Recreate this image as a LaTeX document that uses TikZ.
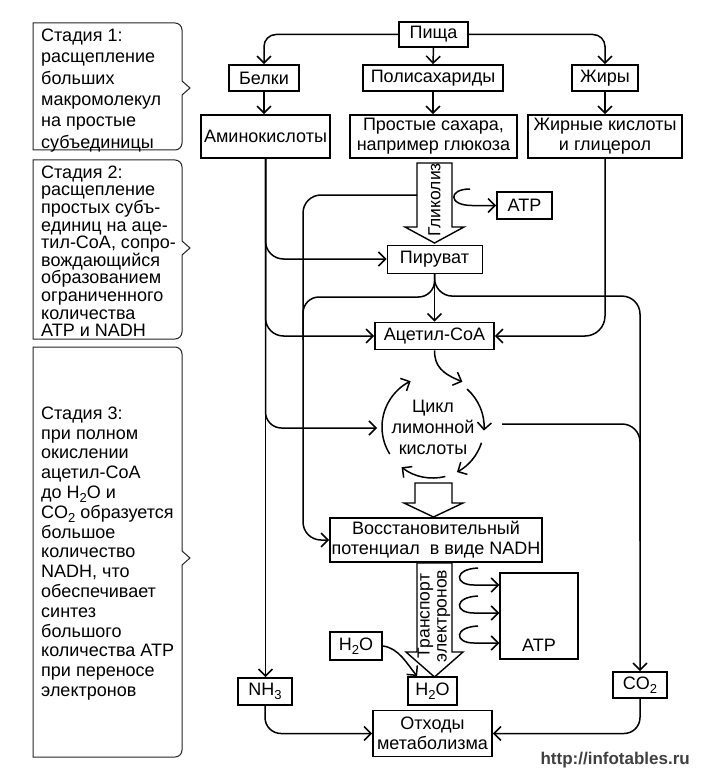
\documentclass[tikz,border=0pt]{standalone}
\usepackage{fontspec}
\setmainfont{Liberation Sans}
\usetikzlibrary{arrows.meta,calc}
\newcommand\subidx[1]{\raisebox{-0.45ex}{\fontsize{13}{13}\selectfont #1}}
\begin{document}
\begin{tikzpicture}[x=1pt,y=1pt,
  box/.style={draw, line width=1.8pt, inner sep=0pt, align=center, font=\fontsize{18}{20}\selectfont},
  conn/.style={line width=1.5pt},
  arr/.style={conn, -{Straight Barb[length=7pt,width=14pt]}},
  stageline/.style={line width=1pt, draw=black!85},
  stagetext/.style={anchor=north west, inner sep=0pt, align=left},
  hollow/.style={draw, line width=1.4pt, fill=white, line join=miter}
]
\useasboundingbox (0,0) rectangle (707,-778);
\fill[white] (0,0) rectangle (707,-778);

% ---------- stage boxes ----------
\draw[stageline] (33,-150) -- (33,-23) -- (175,-23) arc[start angle=90,end angle=0,radius=7]
  -- (182,-81) -- (190,-88) -- (182,-95) -- (182,-143) arc[start angle=0,end angle=-90,radius=7] -- cycle;
\draw[stageline] (33,-339) -- (33,-160) -- (175,-160) arc[start angle=90,end angle=0,radius=7]
  -- (182,-241) -- (190,-248) -- (182,-255) -- (182,-332) arc[start angle=0,end angle=-90,radius=7] -- cycle;
\draw[stageline] (33,-757) -- (33,-347) -- (175,-347) arc[start angle=90,end angle=0,radius=7]
  -- (182,-551) -- (190,-558) -- (182,-565) -- (182,-750) arc[start angle=0,end angle=-90,radius=7] -- cycle;

\node[stagetext, font=\fontsize{18}{21.4}\selectfont] (s1) at (41,-28.5)
 {Стадия 1:\\расщепление\\больших\\макромолекул\\на простые\\субъединицы};
\node[stagetext, font=\fontsize{18}{17.6}\selectfont] (s2) at (41,-165.5)
 {Стадия 2:\\расщепление\\простых субъ-\\единиц на аце-\\тил-CoA, сопро-\\вождающийся\\образованием\\ограниченного\\количества\\ATP и NADH};
\node[stagetext, font=\fontsize{18}{19.8}\selectfont] (s3) at (41,-406.5)
 {Стадия 3:\\при полном\\окислении\\ацетил-CoA\\до H\subidx{2}O и\\CO\subidx{2} образуется\\большое\\количество\\NADH, что\\обеспечивает\\синтез\\большого\\количества ATP\\при переносе\\электронов};

% ---------- nodes ----------
\node[box, minimum width=69, minimum height=25] (pisha) at (433.5,-34.5) {Пища};
\node[box, minimum width=70, minimum height=26] (belki) at (264,-78) {Белки};
\node[box, minimum width=140, minimum height=26] (poly) at (433,-78) {Полисахариды};
\node[box, minimum width=66, minimum height=26] (zhiry) at (605,-78) {Жиры};
\node[box, minimum width=129, minimum height=43] (amino) at (265.5,-136.5) {Аминокислоты};
\node[box, minimum width=167, minimum height=43] (sugar) at (433.5,-136.5) {Простые сахара,\\например глюкоза};
\node[box, minimum width=154, minimum height=43] (fatty) at (605,-136.5) {Жирные кислоты\\и глицерол};
\node[box, minimum width=55, minimum height=27] (atp1) at (524.5,-205.5) {ATP};
\node[box, line width=1pt, minimum width=95, minimum height=28] (pyr) at (434.5,-259) {Пируват};
\node[box, minimum width=119, minimum height=27] (acetyl) at (434.5,-336) {Ацетил-CoA};
\node[box, minimum width=212, minimum height=44] (nadh) at (436,-540) {Восстановительный\\потенциал\ \ в виде NADH};
\node[box, line width=1.5pt, minimum width=78, minimum height=86] (atp2) at (539,-616) {};
\node[inner sep=0pt, font=\fontsize{18}{20}\selectfont] (atp2lbl) at (539,-645) {ATP};
\node[box, minimum width=52, minimum height=28] (h2oa) at (356,-646) {H\subidx{2}O};
\node[box, minimum width=49, minimum height=28] (h2ob) at (432.5,-691) {H\subidx{2}O};
\node[box, minimum width=54, minimum height=27] (nh3) at (265,-691.5) {NH\subidx{3}};
\node[box, minimum width=54, minimum height=26] (co2) at (640,-685) {CO\subidx{2}};
\node[box, minimum width=119, minimum height=46] (otx) at (432.5,-733.5) {Отходы\\метаболизма};
\node[inner sep=0pt, anchor=east, text=black!75, font=\bfseries\fontsize{17}{20}\selectfont] (url) at (690,-760) {http://infotables.ru};

% ---------- cycle ----------
\coordinate (cc) at (433,-427);
\node[inner sep=0pt, align=center, font=\fontsize{18}{21}\selectfont] (cyc) at (cc) {Цикл\\лимонной\\кислоты};
\draw[arr] ($(cc)+(212:51)$) arc[start angle=212,end angle=116,radius=51];
\draw[arr] ($(cc)+(48:51)$) arc[start angle=48,end angle=-4,radius=51];
\draw[arr] ($(cc)+(-18:51)$) arc[start angle=-18,end angle=-62,radius=51];
\draw[arr] ($(cc)+(-76:51)$) arc[start angle=-76,end angle=-128,radius=51];
\coordinate (cycin) at ($(cc)+(-56,-1)$);
\coordinate (cycout) at ($(cc)+(69,3)$);

% ---------- hollow arrows ----------
\draw[hollow] (417,-163) -- (452,-163) -- (452,-227) -- (464,-227) -- (434.5,-243) -- (405,-227) -- (417,-227) -- cycle;
\node[rotate=90, inner sep=0pt, font=\fontsize{17.5}{17.5}\selectfont] (glyc) at (434.5,-200) {Гликолиз};
\draw[hollow] (415,-483) -- (452,-483) -- (452,-503) -- (463,-503) -- (433.5,-517) -- (404,-503) -- (415,-503) -- cycle;
\draw[hollow] (417,-563) -- (452,-563) -- (452,-652) -- (463,-652) -- (434.5,-677) -- (406,-652) -- (417,-652) -- cycle;
\node[rotate=90, inner sep=0pt, align=center, font=\fontsize{17.5}{17}\selectfont] (trans) at (434,-616) {Транспорт\\электронов};

% ---------- connectors ----------
\draw[arr, rounded corners=12] (pisha.west) -| (belki.north);
\draw[arr, rounded corners=12] (pisha.east) -| (zhiry.north);
\draw[arr] (pisha.south) -- (poly.north);
\draw[arr] (belki.south) -- (belki.south |- amino.north);
\draw[arr] (poly.south) -- (poly.south |- sugar.north);
\draw[arr] (zhiry.south) -- (zhiry.south |- fatty.north);

\draw[arr, rounded corners=18] (amino.south) |- (pyr.west);
\draw[arr, rounded corners=18] (amino.south) |- (acetyl.west);
\draw[arr, rounded corners=16] (amino.south) |- (cycin);
\draw[arr] (amino.south) -- (amino.south |- nh3.north);

\coordinate (glycL) at (417,-195);
\draw[arr, rounded corners=18] (glycL) -| (303,-400) |- (nadh.west);
\draw[arr] (470,-189) .. controls (448,-189) and (448,-205.5) .. (472,-205.5) -- (atp1.west);

\draw[arr] (pyr.south) -- (acetyl.north);
\draw[conn, rounded corners=16] (pyr.south) |- (303,-297) -- (303,-340);
\draw[arr, rounded corners=18] (pyr.south) |- ($(co2.north)+(0,375)$) -- (co2.north);
\draw[arr, rounded corners=20] (fatty.south) |- (acetyl.east);

\draw[arr] (acetyl.south) .. controls +(0,-16) and +(-20,8) .. ($(cc)+(57:54)$);
\draw[conn, rounded corners=18] (cycout) -| ($(co2.north)+(0,130)$);

\foreach \yy in {585,613,643} {
  \draw[arr] (478,-\yy+17) .. controls (454,-\yy+16) and (454,-\yy) .. (474,-\yy) -- (atp2.west |- 0,-\yy);
}
\draw[arr] (h2oa.east) .. controls +(16,-2) and +(-10,12) .. ($(h2ob.north west)+(10,0)$);

\draw[arr, rounded corners=16] (nh3.south) |- (otx.west);
\draw[arr, rounded corners=16] (co2.south) |- (otx.east);
\end{tikzpicture}
\end{document}
